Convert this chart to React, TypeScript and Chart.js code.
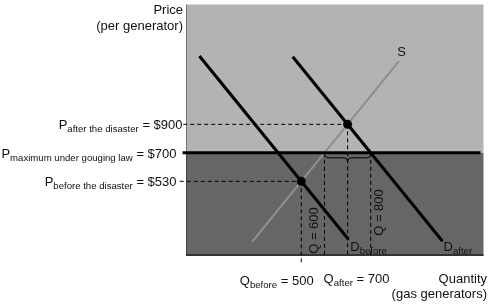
import React, { useEffect, useRef } from "react";
import { Chart, registerables } from "chart.js";
Chart.register(...registerables);

// Diagram data (quantity of gas generators, price per generator)
const supplyQ = [288, 922];
const supplyP = [76, 1344];
const demandBeforeQ = [60, 705];
const demandBeforeP = [1380, 90];
const demandAfterQ = [463, 1110];
const demandAfterP = [1374, 80];
const ceilingPrice = 700;
const shortageQ = [600, 800];
const priceLabels = ["$900", "$700", "$530"];
const quantityLabels = ["500", "700"];
const shortageLabels = ["Q = 600", "Q = 800"];

const Q_MIN = 2;
const Q_MAX = 1287;
const P_MIN = -24;
const P_MAX = 1741;

type Pt = { x: number; y: number };

function intersect(a1: Pt, a2: Pt, b1: Pt, b2: Pt): Pt {
  const ma = (a2.y - a1.y) / (a2.x - a1.x);
  const mb = (b2.y - b1.y) / (b2.x - b1.x);
  const x = (b1.y - a1.y + ma * a1.x - mb * b1.x) / (ma - mb);
  return { x, y: a1.y + ma * (x - a1.x) };
}

const S1 = { x: supplyQ[0], y: supplyP[0] };
const S2 = { x: supplyQ[1], y: supplyP[1] };
const DB1 = { x: demandBeforeQ[0], y: demandBeforeP[0] };
const DB2 = { x: demandBeforeQ[1], y: demandBeforeP[1] };
const DA1 = { x: demandAfterQ[0], y: demandAfterP[0] };
const DA2 = { x: demandAfterQ[1], y: demandAfterP[1] };
const eqBefore = intersect(S1, S2, DB1, DB2);
const eqAfter = intersect(S1, S2, DA1, DA2);

const FONT = '"Liberation Sans", Arial, Helvetica, sans-serif';
const MAIN = `13px ${FONT}`;
const SUB = `9.6px ${FONT}`;
const INK = "#111111";

function drawParts(
  ctx: CanvasRenderingContext2D,
  parts: [string, boolean][],
  x: number,
  baseline: number,
  align: "left" | "right"
) {
  ctx.textAlign = "left";
  ctx.textBaseline = "alphabetic";
  let total = 0;
  for (const [t, sub] of parts) {
    ctx.font = sub ? SUB : MAIN;
    total += ctx.measureText(t).width;
  }
  let cx = align === "right" ? x - total : x;
  for (const [t, sub] of parts) {
    ctx.font = sub ? SUB : MAIN;
    ctx.fillText(t, cx, sub ? baseline + 3 : baseline);
    cx += ctx.measureText(t).width;
  }
}

const dash = [4, 3];

export default function App() {
  const ref = useRef<HTMLCanvasElement>(null);
  useEffect(() => {
    if (!ref.current) return;

    const bgPlugin = {
      id: "bg",
      beforeDatasetsDraw(chart: any) {
        const { ctx, chartArea: a, scales } = chart;
        const yc = scales.y.getPixelForValue(ceilingPrice);
        ctx.save();
        ctx.fillStyle = "#b3b3b3";
        ctx.fillRect(a.left, a.top, a.right - a.left, yc - a.top);
        ctx.fillStyle = "#666666";
        ctx.fillRect(a.left, yc, a.right - a.left, a.bottom - yc);
        ctx.fillStyle = "rgba(0,0,0,0.35)";
        ctx.fillRect(a.left, a.top, 1, a.bottom - a.top);
        ctx.fillStyle = "#333333";
        ctx.fillRect(a.left, a.bottom - 2, a.right - a.left, 2);
        ctx.restore();
      },
    };

    const labelPlugin = {
      id: "labels",
      afterDraw(chart: any) {
        const { ctx, scales } = chart;
        const xs = scales.x;
        const ys = scales.y;
        const X = (q: number) => xs.getPixelForValue(q);
        const Y = (p: number) => ys.getPixelForValue(p);
        ctx.save();
        ctx.fillStyle = INK;

        // y axis title
        drawParts(ctx, [["Price", false]], 183, 14, "right");
        drawParts(ctx, [["(per generator)", false]], 183, 30, "right");

        // price labels
        drawParts(
          ctx,
          [["P", false], ["after the disaster", true], [" = " + priceLabels[0], false]],
          182.5,
          Y(eqAfter.y) + 4.8,
          "right"
        );
        drawParts(
          ctx,
          [["P", false], ["maximum under gouging law", true], [" = " + priceLabels[1], false]],
          176.5,
          Y(ceilingPrice) + 4.8,
          "right"
        );
        drawParts(
          ctx,
          [["P", false], ["before the disaster", true], [" = " + priceLabels[2], false]],
          176.5,
          Y(eqBefore.y) + 4.5,
          "right"
        );

        // quantity labels
        drawParts(
          ctx,
          [["Q", false], ["before", true], [" = " + quantityLabels[0], false]],
          X(eqBefore.x) - 61.5,
          284.5,
          "left"
        );
        drawParts(
          ctx,
          [["Q", false], ["after", true], [" = " + quantityLabels[1], false]],
          X(eqAfter.x) - 24,
          283,
          "left"
        );
        drawParts(ctx, [["Quantity", false]], 487, 283, "right");
        drawParts(ctx, [["(gas generators)", false]], 487, 298, "right");

        // curve labels
        ctx.font = MAIN;
        ctx.textAlign = "center";
        ctx.fillText("S", X(S2.x) + 2.5, Y(S2.y) - 5);
        drawParts(ctx, [["D", false], ["before", true]], X(DB2.x) + 1.5, Y(DB2.y) + 11, "left");
        drawParts(ctx, [["D", false], ["after", true]], X(DA2.x) + 1, Y(DA2.y) + 10, "left");

        // rotated shortage labels
        const rot = (t: string, cx: number, cy: number) => {
          ctx.save();
          ctx.translate(cx, cy);
          ctx.rotate(-Math.PI / 2);
          ctx.font = MAIN;
          ctx.textAlign = "center";
          ctx.textBaseline = "middle";
          ctx.fillText(t, 0, 0);
          ctx.restore();
        };
        rot(shortageLabels[0], X(shortageQ[0]) - 10, 230.5);
        rot(shortageLabels[1], X(shortageQ[1]) + 8.5, 212.5);

        // curly brace under the ceiling between the two quantities
        const x1 = X(shortageQ[0]);
        const x2 = X(shortageQ[1]);
        const mid = (x1 + x2) / 2;
        const y0 = Y(ceilingPrice) + 1.5;
        const ym = y0 + 3.5;
        const yt = y0 + 7;
        const r = 4;
        ctx.beginPath();
        ctx.moveTo(x1, y0);
        ctx.quadraticCurveTo(x1, ym, x1 + r, ym);
        ctx.lineTo(mid - r, ym);
        ctx.quadraticCurveTo(mid, ym, mid, yt);
        ctx.quadraticCurveTo(mid, ym, mid + r, ym);
        ctx.lineTo(x2 - r, ym);
        ctx.quadraticCurveTo(x2, ym, x2, y0);
        ctx.strokeStyle = "#000";
        ctx.lineWidth = 1;
        ctx.stroke();
        ctx.restore();
      },
    };

    const lineDs = (data: Pt[], color: string, width: number, extra: any = {}) => ({
      data,
      borderColor: color,
      borderWidth: width,
      pointRadius: 0,
      showLine: true,
      fill: false,
      tension: 0,
      ...extra,
    });

    const chart = new Chart(ref.current, {
      type: "scatter",
      data: {
        datasets: [
          {
            data: [eqBefore, eqAfter],
            pointRadius: 4.5,
            pointBackgroundColor: "#000",
            pointBorderColor: "#000",
            pointBorderWidth: 0,
            showLine: false,
            order: 0,
          },
          lineDs(
            [
              { x: -13, y: ceilingPrice },
              { x: 1274, y: ceilingPrice },
            ],
            "#000",
            3,
            { order: 1, clip: false }
          ),
          lineDs([DB1, DB2], "#000", 3, { order: 2 }),
          lineDs([DA1, DA2], "#000", 3, { order: 3 }),
          lineDs([S1, S2], "#8e8e8e", 2, { order: 4 }),
          lineDs(
            [
              { x: -10, y: eqAfter.y },
              { x: eqAfter.x, y: eqAfter.y },
            ],
            "#000",
            1,
            { order: 5, borderDash: dash, clip: false }
          ),
          lineDs(
            [
              { x: -25, y: eqBefore.y },
              { x: eqBefore.x, y: eqBefore.y },
            ],
            "#000",
            1,
            { order: 6, borderDash: dash, clip: false }
          ),
          lineDs(
            [
              { x: eqAfter.x, y: eqAfter.y },
              { x: eqAfter.x, y: P_MIN + 8 },
            ],
            "#000",
            1,
            { order: 7, borderDash: dash }
          ),
          lineDs(
            [
              { x: eqBefore.x, y: eqBefore.y },
              { x: eqBefore.x, y: -68 },
            ],
            "#000",
            1,
            { order: 8, borderDash: dash, clip: false }
          ),
          lineDs(
            [
              { x: shortageQ[0], y: ceilingPrice },
              { x: shortageQ[0], y: P_MIN + 8 },
            ],
            "#000",
            1,
            { order: 9, borderDash: dash }
          ),
          lineDs(
            [
              { x: shortageQ[1], y: ceilingPrice },
              { x: shortageQ[1], y: P_MIN + 8 },
            ],
            "#000",
            1,
            { order: 10, borderDash: dash }
          ),
        ],
      },
      options: {
        responsive: false,
        animation: false,
        events: [],
        layout: { padding: { left: 186, right: 0, top: 0, bottom: 48 } },
        plugins: { legend: { display: false }, tooltip: { enabled: false }, title: { display: false } },
        scales: {
          x: { type: "linear", min: Q_MIN, max: Q_MAX, display: false },
          y: { type: "linear", min: P_MIN, max: P_MAX, display: false },
        },
      },
      plugins: [bgPlugin, labelPlugin],
    } as any);
    return () => chart.destroy();
  }, []);

  return (
    <div style={{ position: "absolute", left: 0, top: 0, width: 488, height: 304, background: "#fff" }}>
      <canvas ref={ref} width={488} height={304} style={{ display: "block" }} />
    </div>
  );
}
